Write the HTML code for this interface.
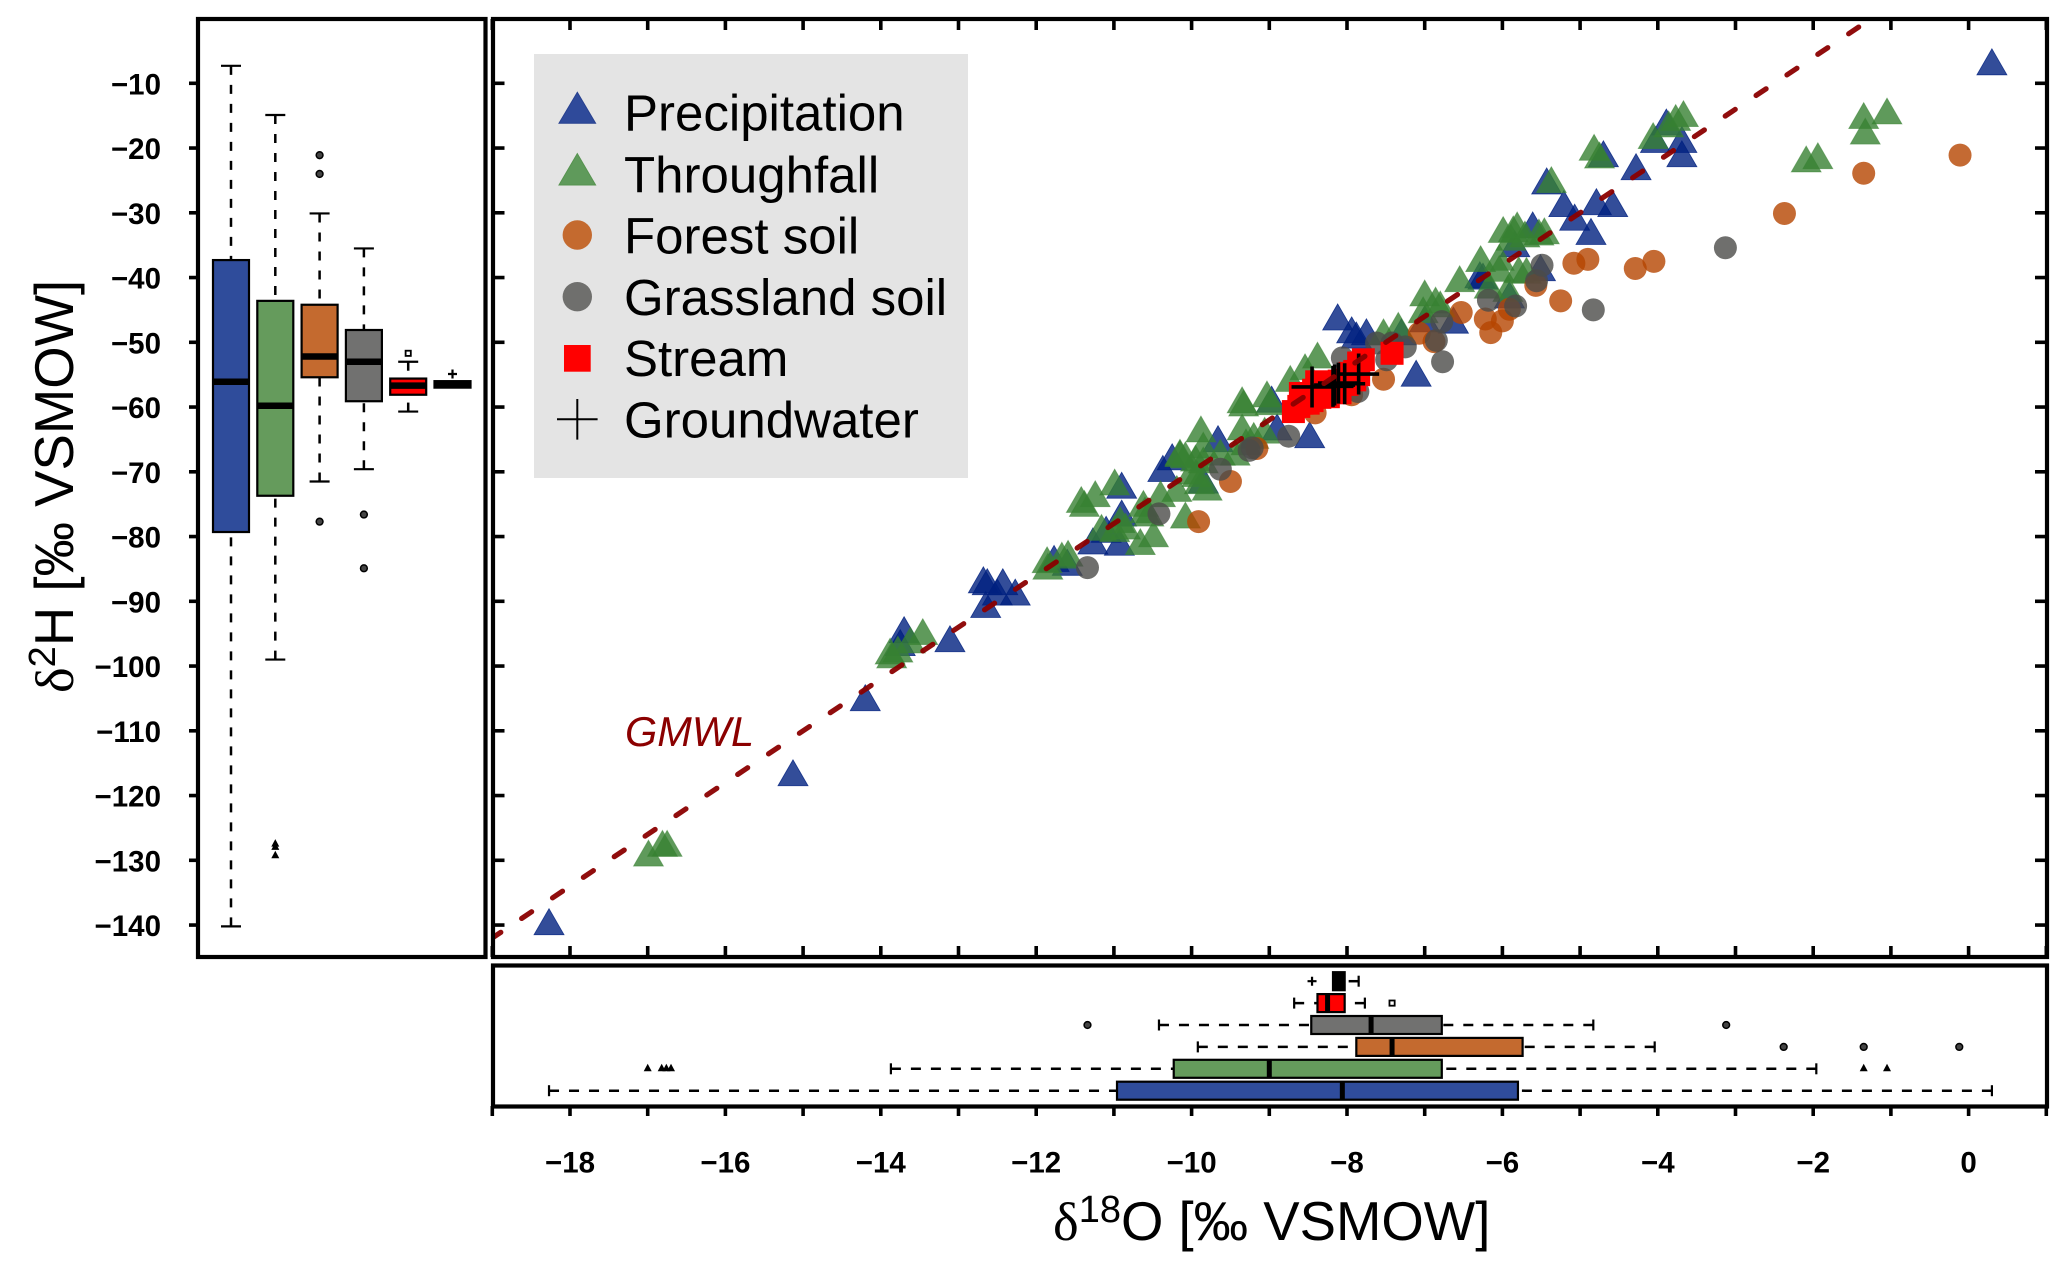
<!DOCTYPE html>
<html lang="en">
<head>
<meta charset="utf-8">
<title>Isotope dual plot</title>
<style>
html,body{margin:0;padding:0;background:#fff;}
svg{display:block;font-family:"Liberation Sans",sans-serif;}
.tick-label{font-weight:bold;font-size:29.5px;fill:#000;}
.legend-text{font-size:51px;fill:#000;}
.axis-title{font-size:54.5px;fill:#000;}
.panel{fill:none;stroke:#000;stroke-width:4.2;}
</style>
</head>
<body>
<svg id="chart" xmlns="http://www.w3.org/2000/svg" width="2067" height="1270" viewBox="0 0 2067 1270">
  <defs>
    <clipPath id="main-clip"><rect x="493" y="19" width="1554" height="938"/></clipPath>
  </defs>
  <rect x="0" y="0" width="2067" height="1270" fill="#fff"/>
  <rect x="534" y="54" width="434" height="424" fill="#e4e4e4"/>
  <g id="scatter-layer" clip-path="url(#main-clip)"></g>
  <g id="left-box-layer"></g>
  <g id="bottom-box-layer"></g>
  <g id="tick-layer"></g>
  <rect class="panel" x="198" y="19" width="287.5" height="938"/>
  <rect class="panel" x="493" y="19" width="1554" height="938"/>
  <rect class="panel" x="493" y="965.5" width="1554" height="141"/>

  <text x="625" y="746" font-size="41.5" font-style="italic" fill="#8b0000">GMWL</text>

  <g>
    <polygon points="577.3,92.3 595.6,123.3 559,123.3" fill="#2f4a9a" stroke="#27408f" stroke-width="1"/>
    <text class="legend-text" x="624" y="130.7">Precipitation</text>
    <polygon points="577.3,153.6 595.6,185 559,185" fill="#5f9a5b" stroke="#56934f" stroke-width="1"/>
    <text class="legend-text" x="624" y="192.3">Throughfall</text>
    <circle cx="577.3" cy="235" r="14.7" fill="#c46a2f"/>
    <text class="legend-text" x="624" y="253.3">Forest soil</text>
    <circle cx="577.3" cy="296.7" r="14.7" fill="#6f6f6d"/>
    <text class="legend-text" x="624" y="315">Grassland soil</text>
    <rect x="564" y="345" width="26.7" height="26.7" fill="#ff0000"/>
    <text class="legend-text" x="624" y="376">Stream</text>
    <path d="M557,419.3H597.6M577.3,399V439.6" stroke="#000" stroke-width="2" fill="none"/>
    <text class="legend-text" x="624" y="437.3">Groundwater</text>
  </g>

  <text class="axis-title" transform="translate(73,693) rotate(-90)"><tspan font-family="Liberation Serif">δ</tspan><tspan dy="-18" font-size="38">2</tspan><tspan dy="18">H [‰ VSMOW]</tspan></text>
  <text class="axis-title" x="1053" y="1240"><tspan font-family="Liberation Serif">δ</tspan><tspan dy="-18" font-size="38">18</tspan><tspan dy="18">O [‰ VSMOW]</tspan></text>
</svg>

<script>
// ---------- axis ticks ----------
const xTicks = [-19,-18,-17,-16,-15,-14,-13,-12,-11,-10,-9,-8,-7,-6,-5,-4,-3,-2,-1,0,1];
const xTickLabels = [-18,-16,-14,-12,-10,-8,-6,-4,-2,0];
const yTicks = [-10,-20,-30,-40,-50,-60,-70,-80,-90,-100,-110,-120,-130,-140];

// ---------- GMWL ----------
const gmwlSlope = 8;
const gmwlIntercept = 10;

// ---------- scatter series (d18O, d2H) ----------
const precipO = [-18.27,-15.13,-14.2,-13.7,-13.75,-13.11,-12.68,-12.63,-12.43,-12.27,-12.65,-12.5,-11.77,-11.6,-11.27,-10.93,-11.1,-10.9,-10.9,-10.37,-10.25,-9.66,-9.85,-8.97,-8.9,-8.48,-8.12,-7.94,-7.88,-7.75,-7.3,-7.11,-7.0,-6.63,-6.29,-6.25,-5.91,-5.84,-5.61,-5.51,-5.43,-5.21,-5.07,-4.86,-4.79,-4.58,-4.7,-4.28,-4.03,-3.89,-3.69,-3.69,0.3];
const precipH = [-140.1,-117.1,-105.5,-95,-97,-96.4,-87.3,-87.6,-87.6,-89.2,-91.1,-89.2,-84,-84.6,-81.3,-81.5,-79.5,-72.7,-77,-70.1,-68.3,-65.5,-71.9,-59.4,-63.7,-64.9,-46.7,-48.7,-49.5,-49,-49,-55.4,-47,-47.2,-40.2,-40.4,-43.3,-35.4,-32.5,-39.1,-25.7,-29.2,-31.3,-33.5,-28.9,-29.2,-21.5,-23.5,-19.3,-16.6,-19.3,-21.5,-7.3];

const thrufallO = [-16.99,-16.81,-16.75,-13.88,-13.86,-13.78,-13.62,-13.46,-11.86,-11.85,-11.67,-11.59,-11.42,-11.38,-11.24,-11.16,-10.99,-10.99,-10.92,-10.85,-10.66,-10.62,-10.6,-10.55,-10.49,-10.4,-10.19,-10.15,-10.15,-10.08,-10.08,-10,-9.95,-9.93,-9.9,-9.88,-9.85,-9.85,-9.8,-9.63,-9.44,-9.35,-9.35,-9.33,-9.3,-9.2,-9.06,-9.03,-8.99,-8.73,-8.54,-8.38,-7.53,-7.34,-7.02,-7,-6.86,-6.8,-6.55,-6.28,-6.17,-6.04,-6.04,-5.99,-5.93,-5.89,-5.86,-5.81,-5.79,-5.71,-5.69,-5.53,-5.46,-5.37,-4.82,-4.75,-4.06,-3.86,-3.77,-3.67,-2.09,-1.94,-1.33,-1.35,-1.05];
const thrufallH = [-129.5,-128,-128,-98.3,-98.9,-98,-96.6,-95.3,-84.2,-85.2,-83.5,-83.2,-74.9,-75.5,-74,-79.2,-72.2,-79.4,-78,-79,-81.4,-75.5,-76.5,-77,-80.2,-74,-73.2,-67.8,-67.6,-77.3,-68,-70.5,-68.5,-70.9,-72,-64,-66.5,-68.8,-73,-67.6,-67.6,-63.7,-59.5,-60,-66,-65,-64.2,-58.6,-59.8,-56.2,-54.4,-52.6,-49,-48,-45.6,-43,-44.1,-44.7,-40.8,-37.7,-41.8,-37.5,-39.2,-33.2,-42.3,-34.4,-33.1,-32.5,-39.4,-33.9,-39.5,-33.6,-33.4,-25.5,-20.5,-21.7,-18.7,-16.9,-15.9,-15.3,-22.3,-21.8,-18,-15.6,-14.9];

const forestO = [-9.91,-9.5,-9.16,-8.41,-7.94,-7.53,-7.07,-6.88,-6.53,-6.22,-6.15,-6.0,-5.91,-5.57,-5.25,-5.08,-4.9,-4.29,-4.05,-2.37,-1.35,-0.11];
const forestH = [-77.7,-71.5,-66.4,-60.9,-58.1,-55.7,-48.6,-49.9,-45.4,-46.4,-48.5,-46.7,-44.9,-41.2,-43.6,-37.8,-37.2,-38.6,-37.5,-30.1,-23.9,-21.1];

const grassO = [-11.34,-10.42,-9.63,-9.26,-9.22,-8.75,-8.06,-7.86,-7.62,-7.49,-7.42,-7.25,-6.85,-6.78,-6.77,-6.18,-5.83,-5.56,-5.49,-4.83,-3.13];
const grassH = [-84.8,-76.5,-69.6,-66.7,-66.3,-64.5,-52.4,-57.6,-50.1,-52.7,-50.1,-50.7,-49.7,-46.8,-53,-43.5,-44.4,-40.5,-38.1,-45,-35.4];

const streamO = [-8.69,-8.62,-8.6,-8.58,-8.55,-8.5,-8.45,-8.43,-8.39,-8.35,-8.3,-8.28,-8.24,-8.2,-8.15,-8.13,-8.1,-8.09,-8.05,-8,-7.96,-7.95,-7.9,-7.9,-7.85,-7.85,-7.79,-7.42];
const streamH = [-60.7,-59.9,-57.9,-59.4,-58.5,-59.4,-59,-57.4,-56.1,-58.5,-57.5,-57.4,-58.4,-57,-57.5,-56.9,-56,-57.8,-55.8,-56.5,-54.8,-55.5,-55.8,-54.5,-53.2,-55,-52.7,-51.7];

const groundO = [-8.45,-8.18,-8.16,-8.11,-8.03,-7.85];
const groundH = [-56.9,-56.8,-56.6,-56.3,-56.4,-54.9];

// ---------- boxplot stats: precipitation, throughfall, forest, grassland, stream, groundwater ----------
const boxGroups = ['precipitation','throughfall','forest-soil','grassland-soil','stream','groundwater'];

const hLowWhisker = [-140.2,-99,-71.5,-69.6,-60.7,-57];
const hQ1 = [-79.3,-73.7,-55.4,-59.1,-58.1,-57];
const hMedian = [-56.1,-59.8,-52.2,-53,-56.7,-56.5];
const hQ3 = [-37.3,-43.6,-44.2,-48.1,-55.6,-56];
const hHighWhisker = [-7.3,-14.9,-30.1,-35.5,-53,-56];
const hOutliers = [[],[-127.5,-128,-129.3],[-21.1,-24,-77.7],[-76.6,-84.9],[-51.7],[-54.9]];

const oLowWhisker = [-18.27,-13.87,-9.92,-10.42,-8.68,-8.18];
const oQ1 = [-10.96,-10.23,-7.88,-8.46,-8.38,-8.18];
const oMedian = [-8.06,-9,-7.42,-7.69,-8.25,-8.11];
const oQ3 = [-5.8,-6.78,-5.74,-6.78,-8.03,-8.03];
const oHighWhisker = [0.3,-1.96,-4.04,-4.83,-7.77,-7.85];
const oOutliers = [[],[-17,-16.82,-16.76,-16.7,-1.35,-1.05],[-2.38,-1.35,-0.12],[-11.34,-3.12],[-7.42],[-8.45]];

// ---------- styles ----------
const boxColors = ['#2f4c9b','#659b5c','#c46a2f','#717170','#ff0000','#000000'];
const outlierShapes = ['none','triangle','circle','circle','square','plus'];

// ---------- scales ----------
function xScale(v){ return 1968.6 + 77.7 * v; }
function yScale(v){ return 18.55 - 6.475 * v; }
function leftBoxX(i){ return 231 + 44.3 * i; }
function bottomBoxY(i){ return 1090.7 - 21.9 * i; }

const NS = 'http://www.w3.org/2000/svg';
function mk(tag, attrs, parent){
  const e = document.createElementNS(NS, tag);
  for (const k in attrs) e.setAttribute(k, attrs[k]);
  parent.appendChild(e);
  return e;
}
const scatterLayer = document.getElementById('scatter-layer');
const leftLayer = document.getElementById('left-box-layer');
const bottomLayer = document.getElementById('bottom-box-layer');
const tickLayer = document.getElementById('tick-layer');

// ---------- ticks ----------
function tickLine(x1,y1,x2,y2,name){
  const t = mk('line',{x1:x1,y1:y1,x2:x2,y2:y2,stroke:'#000','stroke-width':3.6},tickLayer);
  
  
}
xTicks.forEach(function(v){
  const x = xScale(v);
  tickLine(x,19,x,30,'top-x-tick');
  tickLine(x,946,x,957,'main-bottom-x-tick');
  tickLine(x,1106,x,1116,'bottom-x-tick');
});
yTicks.forEach(function(v){
  const y = yScale(v);
  tickLine(189,y,198,y,'left-y-tick');
  tickLine(493,y,504.5,y,'main-left-y-tick');
  tickLine(2035,y,2047,y,'main-right-y-tick');
  const t = mk('text',{x:161,y:y+11,'text-anchor':'end','class':'tick-label'},tickLayer);
  
  
  t.textContent = '\u2212' + Math.abs(v);
});
xTickLabels.forEach(function(v){
  const t = mk('text',{x:xScale(v),y:1172.5,'text-anchor':'middle','class':'tick-label'},tickLayer);
  
  
  t.textContent = (v<0?'\u2212':'') + Math.abs(v);
});

// ---------- scatter ----------
function triangle(px,py,fill,edge,name){
  const pts = px+','+(py-17)+' '+(px+15)+','+(py+9)+' '+(px-15)+','+(py+9);
  const t = mk('polygon',{points:pts,fill:fill,stroke:edge,'stroke-width':0.8},scatterLayer);
  
  
}
precipO.forEach(function(v,i){
  triangle(xScale(v),yScale(precipH[i]),'rgba(0,32,128,0.8)','rgba(0,32,128,0.8)','precipitation-point');
});
thrufallO.forEach(function(v,i){
  triangle(xScale(v),yScale(thrufallH[i]),'rgba(55,129,50,0.8)','rgba(55,129,50,0.5)','throughfall-point');
});
forestO.forEach(function(v,i){
  const c = mk('circle',{cx:xScale(v),cy:yScale(forestH[i]),r:11.5,fill:'rgba(181,69,0,0.8)'},scatterLayer);
  
  
});
grassO.forEach(function(v,i){
  const c = mk('circle',{cx:xScale(v),cy:yScale(grassH[i]),r:11.5,fill:'rgba(75,75,73,0.8)'},scatterLayer);
  
  
});
streamO.forEach(function(v,i){
  const r = mk('rect',{x:xScale(v)-11.5,y:yScale(streamH[i])-11.5,width:23,height:23,fill:'#ff0000'},scatterLayer);
  
  
});
groundO.forEach(function(v,i){
  const px = xScale(v), py = yScale(groundH[i]);
  const p = mk('path',{d:'M'+(px-20.5)+','+py+'H'+(px+20.5)+'M'+px+','+(py-20.5)+'V'+(py+20.5),stroke:'#000','stroke-width':3.6,fill:'none'},scatterLayer);
  
  
});
const gmwl = mk('line',{x1:xScale(-19),y1:yScale(gmwlSlope*-19+gmwlIntercept),x2:xScale(1),y2:yScale(gmwlSlope*1+gmwlIntercept),stroke:'#8b0000','stroke-width':5.2,'stroke-linecap':'round','stroke-dasharray':'12 25.09','stroke-dashoffset':'1.8','stroke-opacity':'0.95'},scatterLayer);



// ---------- outlier glyphs ----------
function outlier(parent,shape,px,py,group){
  let e;
  if (shape === 'triangle') {
    e = mk('polygon',{points:px+','+(py-5)+' '+(px+4)+','+(py+2.5)+' '+(px-4)+','+(py+2.5),fill:'#000'},parent);
  } else if (shape === 'circle') {
    e = mk('circle',{cx:px,cy:py,r:3.4,fill:'#444',stroke:'#000','stroke-width':1.5},parent);
  } else if (shape === 'square') {
    e = mk('rect',{x:px-2.6,y:py-2.6,width:5.2,height:5.2,fill:'#fff',stroke:'#000','stroke-width':1.8},parent);
  } else {
    e = mk('path',{d:'M'+(px-4.5)+','+py+'H'+(px+4.5)+'M'+px+','+(py-4.5)+'V'+(py+4.5),stroke:'#000','stroke-width':2.2,fill:'none'},parent);
  }
  
  
}

// ---------- left (d2H) boxplots ----------
boxGroups.forEach(function(group,i){
  const cx = leftBoxX(i);
  const hw = 18;
  const g = mk('g',{},leftLayer);
  
  
  const whiskers = [[hHighWhisker[i],hQ3[i]],[hLowWhisker[i],hQ1[i]]];
  whiskers.forEach(function(w){
    if (w[0] === w[1]) return;
    const l = mk('line',{x1:cx,y1:yScale(w[0]),x2:cx,y2:yScale(w[1]),stroke:'#000','stroke-width':2.5,'stroke-dasharray':'9 10'},g);
    
    
    const c = mk('line',{x1:cx-10,y1:yScale(w[0]),x2:cx+10,y2:yScale(w[0]),stroke:'#000','stroke-width':2.2},g);
    
    
  });
  const b = mk('rect',{x:cx-hw,y:yScale(hQ3[i]),width:2*hw,height:yScale(hQ1[i])-yScale(hQ3[i]),fill:boxColors[i],stroke:'#000','stroke-width':2.2},g);
  
  
  const m = mk('line',{x1:cx-hw,y1:yScale(hMedian[i]),x2:cx+hw,y2:yScale(hMedian[i]),stroke:'#000','stroke-width':6.5},g);
  
  
  hOutliers[i].forEach(function(v){
    outlier(g,outlierShapes[i],cx,yScale(v),group);
  });
});

// ---------- bottom (d18O) boxplots ----------
boxGroups.forEach(function(group,i){
  const cy = bottomBoxY(i);
  const hh = 9;
  const g = mk('g',{},bottomLayer);
  
  
  const whiskers = [[oLowWhisker[i],oQ1[i]],[oHighWhisker[i],oQ3[i]]];
  whiskers.forEach(function(w){
    if (w[0] === w[1]) return;
    const l = mk('line',{x1:xScale(w[0]),y1:cy,x2:xScale(w[1]),y2:cy,stroke:'#000','stroke-width':2.5,'stroke-dasharray':'10 10'},g);
    
    
    const c = mk('line',{x1:xScale(w[0]),y1:cy-5.5,x2:xScale(w[0]),y2:cy+5.5,stroke:'#000','stroke-width':2.2},g);
    
    
  });
  const b = mk('rect',{x:xScale(oQ1[i]),y:cy-hh,width:xScale(oQ3[i])-xScale(oQ1[i]),height:2*hh,fill:boxColors[i],stroke:'#000','stroke-width':2.2},g);
  
  
  const m = mk('line',{x1:xScale(oMedian[i]),y1:cy-hh,x2:xScale(oMedian[i]),y2:cy+hh,stroke:'#000','stroke-width':5},g);
  
  
  oOutliers[i].forEach(function(v){
    outlier(g,i === 1 ? 'triangle' : outlierShapes[i],xScale(v),cy,group);
  });
});
</script>
</body>
</html>
